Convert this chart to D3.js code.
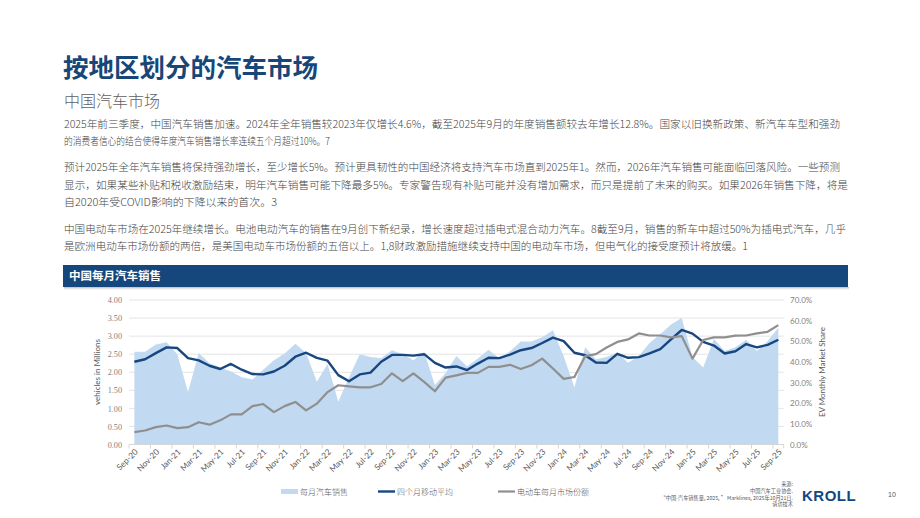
<!DOCTYPE html>
<html>
<head>
<meta charset="utf-8">
<script src="https://cdn.jsdelivr.net/npm/d3@7"></script>
<style>
  html, body { margin: 0; padding: 0; background: #ffffff; }
  svg { display: block; }
</style>
</head>
<body>
<svg id="page" width="920" height="518"></svg>
<script>
// ---------------- data ----------------
const months = [
  "Sep-20","Oct-20","Nov-20","Dec-20",
  "Jan-21","Feb-21","Mar-21","Apr-21","May-21","Jun-21","Jul-21","Aug-21","Sep-21","Oct-21","Nov-21","Dec-21",
  "Jan-22","Feb-22","Mar-22","Apr-22","May-22","Jun-22","Jul-22","Aug-22","Sep-22","Oct-22","Nov-22","Dec-22",
  "Jan-23","Feb-23","Mar-23","Apr-23","May-23","Jun-23","Jul-23","Aug-23","Sep-23","Oct-23","Nov-23","Dec-23",
  "Jan-24","Feb-24","Mar-24","Apr-24","May-24","Jun-24","Jul-24","Aug-24","Sep-24","Oct-24","Nov-24","Dec-24",
  "Jan-25","Feb-25","Mar-25","Apr-25","May-25","Jun-25","Jul-25","Aug-25","Sep-25"
];
// monthly vehicle sales (millions)
const monthlySales = [
  2.57,2.57,2.77,2.83,
  2.50,1.45,2.53,2.25,2.13,2.02,1.86,1.80,2.07,2.33,2.52,2.79,
  2.53,1.74,2.23,1.18,1.86,2.50,2.42,2.39,2.61,2.50,2.33,2.56,
  1.65,1.98,2.45,2.16,2.38,2.62,2.39,2.58,2.85,2.85,2.97,3.16,
  2.44,1.58,2.69,2.36,2.42,2.55,2.26,2.45,2.81,3.05,3.32,3.50,
  2.42,2.13,2.92,2.59,2.69,2.90,2.59,2.86,3.23
];
// four-month moving average (millions)
const movingAvg4 = [
  2.29,2.36,2.53,2.69,
  2.67,2.39,2.33,2.18,2.09,2.23,2.07,1.95,1.94,2.02,2.18,2.43,
  2.54,2.40,2.32,1.92,1.75,1.94,1.99,2.29,2.48,2.48,2.46,2.50,
  2.26,2.13,2.16,2.06,2.24,2.40,2.39,2.49,2.61,2.67,2.81,2.96,
  2.86,2.54,2.47,2.27,2.26,2.51,2.40,2.42,2.52,2.64,2.91,3.17,
  3.07,2.84,2.74,2.52,2.58,2.78,2.69,2.76,2.90
];
// EV monthly market share (%)
const evShare = [
  6.0,6.8,8.4,9.2,
  7.9,8.4,10.8,9.6,11.7,14.6,14.6,18.6,19.6,15.7,18.6,20.6,
  16.5,19.8,25.4,28.7,28.2,27.7,27.7,29.3,34.5,30.7,34.5,30.3,
  25.8,32.4,33.5,34.7,34.7,37.6,37.6,38.6,36.6,38.4,41.6,36.8,
  31.8,32.7,42.8,43.8,47.0,49.7,50.9,53.8,52.8,52.8,51.9,52.5,
  41.6,50.6,51.9,51.9,52.7,52.8,53.8,54.6,57.8
];
const leftTicks = [0,0.5,1,1.5,2,2.5,3,3.5,4];
const rightTicks = [0,10,20,30,40,50,60,70];
const legendLabels = ["每月汽车销售","四个月移动平均","电动车每月市场份额"];

const titleText = "按地区划分的汽车市场";
const subtitleText = "中国汽车市场";
const chartTitle = "中国每月汽车销售";
const paragraphs = [
  ["2025年前三季度，中国汽车销售加速。2024年全年销售较2023年仅增长4.6%，截至2025年9月的年度销售额较去年增长12.8%。国家以旧换新政策、新汽车车型和强劲",
   "的消费者信心的结合使得年度汽车销售增长率连续五个月超过10%。7"],
  ["预计2025年全年汽车销售将保持强劲增长，至少增长5%。预计更具韧性的中国经济将支持汽车市场直到2025年1。然而，2026年汽车销售可能面临回落风险。一些预测",
   "显示，如果某些补贴和税收激励结束，明年汽车销售可能下降最多5%。专家警告现有补贴可能并没有增加需求，而只是提前了未来的购买。如果2026年销售下降，将是",
   "自2020年受COVID影响的下降以来的首次。3"],
  ["中国电动车市场在2025年继续增长。电池电动汽车的销售在9月创下新纪录，增长速度超过插电式混合动力汽车。8截至9月，销售的新车中超过50%为插电式汽车，几乎",
   "是欧洲电动车市场份额的两倍，是美国电动车市场份额的五倍以上。1,8财政激励措施继续支持中国的电动车市场，但电气化的接受度预计将放缓。1"]
];
const sourceLines = ["来源:","中国汽车工业协会.","“中国-汽车销售量, 2025, ” Marklines, 2025年10月21日.","请访技术"];

// ---------------- layout / styles ----------------
const svg = d3.select("#page");
const CJK = "'Noto Sans CJK SC', 'Noto Sans', sans-serif";
const BLUE = "#174679";

// title
svg.append("text").attr("x", 63).attr("y", 77)
  .attr("font-family", CJK).attr("font-weight", 700).attr("font-size", 25.5)
  .attr("fill", BLUE).text(titleText);
svg.append("text").attr("x", 64).attr("y", 107)
  .attr("font-family", CJK).attr("font-weight", 300).attr("font-size", 16)
  .attr("fill", "#5f5f5f").text(subtitleText);

// body paragraphs
const lineYs = [[128,145],[171,189,206],[233,250]];
const lineWs = [[776,266],[776,784,213],[782,684]];
paragraphs.forEach((p, pi) => {
  p.forEach((ln, li) => {
    svg.append("text").attr("x", 64).attr("y", lineYs[pi][li])
      .attr("font-family", CJK).attr("font-size", 10.3).attr("font-weight", 300)
      .attr("fill", "#444444")
      .attr("textLength", lineWs[pi][li]).attr("lengthAdjust", "spacingAndGlyphs")
      .text(ln);
  });
});

// chart header bar with shadow
const defs = svg.append("defs");
const grad = defs.append("linearGradient").attr("id", "shadow").attr("x1", 0).attr("y1", 0).attr("x2", 0).attr("y2", 1);
grad.append("stop").attr("offset", "0%").attr("stop-color", "#9a9a9a").attr("stop-opacity", 0.7);
grad.append("stop").attr("offset", "100%").attr("stop-color", "#ffffff").attr("stop-opacity", 0);
svg.append("rect").attr("x", 64).attr("y", 287).attr("width", 785).attr("height", 4).attr("fill", "url(#shadow)");
svg.append("rect").attr("x", 63).attr("y", 265).attr("width", 785).attr("height", 22).attr("fill", "#15477d");
svg.append("text").attr("x", 69).attr("y", 280)
  .attr("font-family", CJK).attr("font-weight", 700).attr("font-size", 11.5)
  .attr("fill", "#ffffff").text(chartTitle);

// ---------------- chart ----------------
const x = d3.scaleBand().domain(months).range([129, 783.7]).padding(0);
const cx = m => x(m) + x.bandwidth() / 2;
const yL = d3.scaleLinear().domain([0, 4]).range([444.5, 300]);
const yR = d3.scaleLinear().domain([0, 70]).range([444.5, 300]);

const g = svg.append("g");

// gridlines
g.append("g").selectAll("line").data(leftTicks.filter(d => d > 0)).join("line")
  .attr("x1", 129).attr("x2", 783.7)
  .attr("y1", d => yL(d)).attr("y2", d => yL(d))
  .attr("stroke", "#e4e4e4").attr("stroke-width", 1);

// area
const rows = months.map((m, i) => ({ m, s: monthlySales[i], a: movingAvg4[i], e: evShare[i] }));
g.append("path").datum(rows)
  .attr("d", d3.area().x(d => cx(d.m)).y0(yL(0)).y1(d => yL(d.s)))
  .attr("fill", "#c2d9f2");

// moving average line
g.append("path").datum(rows)
  .attr("d", d3.line().x(d => cx(d.m)).y(d => yL(d.a)))
  .attr("fill", "none").attr("stroke", "#18467f").attr("stroke-width", 2.4)
  .attr("stroke-linejoin", "round");

// EV share line
g.append("path").datum(rows)
  .attr("d", d3.line().x(d => cx(d.m)).y(d => yR(d.e)))
  .attr("fill", "none").attr("stroke", "#8f8f8f").attr("stroke-width", 2.2)
  .attr("stroke-linejoin", "round");

// x baseline and ticks
g.append("line").attr("x1", 129).attr("x2", 783.7).attr("y1", yL(0)).attr("y2", yL(0))
  .attr("stroke", "#d6d6d6").attr("stroke-width", 1);
const tickMonths = months.filter((m, i) => i % 2 === 0);
g.append("g").selectAll("line").data(tickMonths).join("line")
  .attr("x1", d => x(d)).attr("x2", d => x(d))
  .attr("y1", yL(0)).attr("y2", yL(0) + 4)
  .attr("stroke", "#d6d6d6").attr("stroke-width", 1);
g.append("line").attr("x1", 783.7).attr("x2", 783.7).attr("y1", yL(0)).attr("y2", yL(0) + 4)
  .attr("stroke", "#d6d6d6");

// x labels (bottom axis, rotated)
const xAxis = d3.axisBottom(x).tickValues(tickMonths).tickSize(0).tickPadding(0);
const xg = svg.append("g").attr("transform", `translate(0,${yL(0)})`).call(xAxis);
xg.select(".domain").remove();
xg.selectAll("text")
  .attr("font-family", "Lato, 'Liberation Sans', sans-serif").attr("font-size", 8.2)
  .attr("fill", "#595959")
  .attr("text-anchor", "end")
  .attr("dy", 0).attr("y", 0)
  .attr("transform", "translate(4,8) rotate(-45)");

// left axis
const lAxis = d3.axisLeft(yL).tickValues(leftTicks).tickSize(0).tickPadding(0).tickFormat(d3.format(".2f"));
const lg = svg.append("g").attr("transform", "translate(122,0)").call(lAxis);
lg.select(".domain").remove();
lg.selectAll("text").attr("font-family", "'Liberation Serif', serif").attr("font-size", 8.2).attr("fill", "#7f7f7f");

// right axis
const rAxis = d3.axisRight(yR).tickValues(rightTicks).tickSize(0).tickPadding(0).tickFormat(d => d.toFixed(1) + "%");
const rg = svg.append("g").attr("transform", "translate(790,0)").call(rAxis);
rg.select(".domain").remove();
rg.selectAll("text").attr("font-family", "Lato, 'Liberation Sans', sans-serif").attr("font-size", 8).attr("fill", "#7f7f7f");

// axis titles
svg.append("text").attr("transform", "translate(100,372) rotate(-90)")
  .attr("text-anchor", "middle").attr("font-family", "Lato, 'Liberation Sans', sans-serif")
  .attr("font-size", 8).attr("fill", "#595959").text("vehicles in Millions");
svg.append("text").attr("transform", "translate(825,372) rotate(-90)")
  .attr("text-anchor", "middle").attr("font-family", "Lato, 'Liberation Sans', sans-serif")
  .attr("font-size", 8).attr("fill", "#595959").text("EV Monthly Market Share");

// legend
const legX = [281, 378, 498];
const lg2 = svg.append("g");
lg2.append("rect").attr("x", legX[0]).attr("y", 489).attr("width", 17).attr("height", 5).attr("fill", "#c2d9f2");
lg2.append("line").attr("x1", legX[1]).attr("x2", legX[1] + 17).attr("y1", 491.5).attr("y2", 491.5)
  .attr("stroke", "#18467f").attr("stroke-width", 2.4);
lg2.append("line").attr("x1", legX[2]).attr("x2", legX[2] + 17).attr("y1", 491.5).attr("y2", 491.5)
  .attr("stroke", "#8f8f8f").attr("stroke-width", 2.2);
legendLabels.forEach((t, i) => {
  lg2.append("text").attr("x", legX[i] + 19).attr("y", 494.5)
    .attr("font-family", CJK).attr("font-size", 8).attr("font-weight", 300)
    .attr("fill", "#595959").text(t);
});

// source
sourceLines.forEach((t, i) => {
  svg.append("text").attr("x", 793).attr("y", 486 + i * 6.8)
    .attr("text-anchor", "end").attr("font-family", CJK).attr("font-size", 5.2)
    .attr("fill", "#595959").text(t);
});

// logo + page number
svg.append("text").attr("x", 802).attr("y", 500.5)
  .attr("font-family", "'Liberation Sans', Arial, sans-serif").attr("font-weight", 700)
  .attr("font-size", 15).attr("letter-spacing", 0.5).attr("fill", "#14477f").text("KROLL");
svg.append("text").attr("x", 888).attr("y", 497)
  .attr("font-family", "'Liberation Sans', sans-serif").attr("font-size", 7)
  .attr("fill", "#595959").text("10");
</script>
</body>
</html>
